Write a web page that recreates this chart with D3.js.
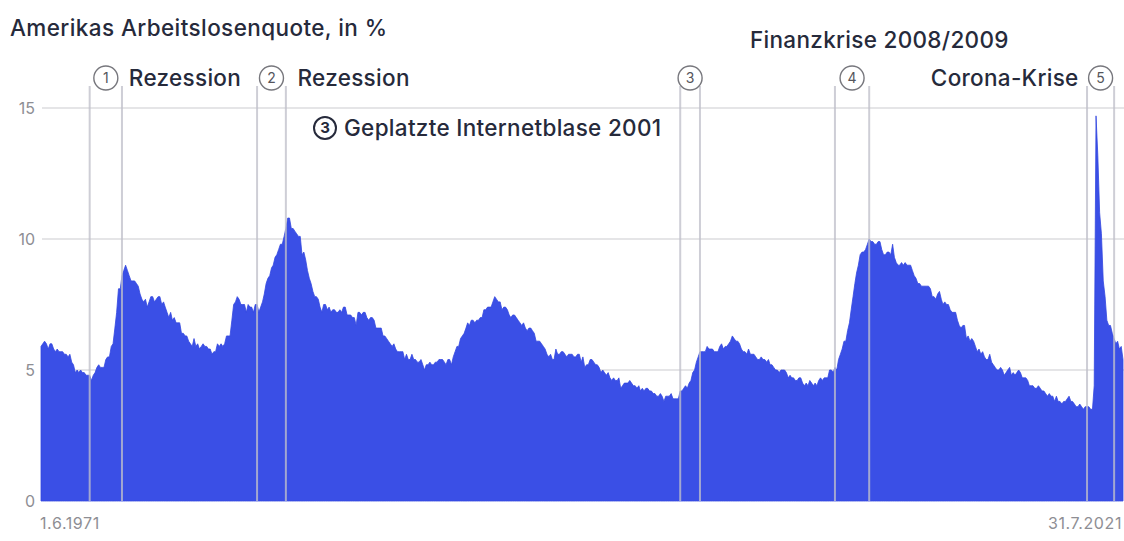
<!DOCTYPE html>
<html>
<head>
<meta charset="utf-8">
<script src="https://cdn.jsdelivr.net/npm/d3@7"></script>
<style>
  body { margin: 0; background: #fff; }
  svg text { font-family: Inter, "Noto Sans", sans-serif; }
</style>
</head>
<body>
<svg id="chart" width="1124" height="541"></svg>
<script>
// monthly unemployment rate in %, first value = June 1971, last = July 2021
const startMonth = "1971-06";
const rates = [
  5.9, 6.0, 6.1, 6.0, 5.8, 6.0, 6.0,
  5.8, 5.7, 5.8, 5.7, 5.7, 5.7, 5.6, 5.6, 5.5, 5.6, 5.3, 5.2,
  4.9, 5.0, 4.9, 5.0, 4.9, 4.9, 4.8, 4.8, 4.8, 4.6, 4.8, 4.9,
  5.1, 5.2, 5.1, 5.1, 5.1, 5.4, 5.5, 5.5, 5.9, 6.0, 6.6, 7.2,
  8.1, 8.1, 8.6, 8.8, 9.0, 8.8, 8.6, 8.4, 8.4, 8.4, 8.3, 8.2,
  7.9, 7.7, 7.6, 7.7, 7.4, 7.6, 7.8, 7.8, 7.6, 7.7, 7.8, 7.8,
  7.5, 7.6, 7.4, 7.2, 7.0, 7.2, 6.9, 7.0, 6.8, 6.8, 6.8, 6.4,
  6.4, 6.3, 6.3, 6.1, 6.0, 5.9, 6.2, 5.9, 6.0, 5.8, 5.9, 6.0,
  5.9, 5.9, 5.8, 5.8, 5.6, 5.7, 5.7, 6.0, 5.9, 6.0, 5.9, 6.0,
  6.3, 6.3, 6.3, 6.9, 7.5, 7.6, 7.8, 7.7, 7.5, 7.5, 7.5, 7.2,
  7.5, 7.4, 7.4, 7.2, 7.5, 7.5, 7.2, 7.4, 7.6, 7.9, 8.3, 8.5,
  8.6, 8.9, 9.0, 9.3, 9.4, 9.6, 9.8, 9.8, 10.1, 10.4, 10.8, 10.8,
  10.4, 10.4, 10.3, 10.2, 10.1, 10.1, 9.4, 9.5, 9.2, 8.8, 8.5, 8.3,
  8.0, 7.8, 7.8, 7.7, 7.4, 7.2, 7.5, 7.5, 7.3, 7.4, 7.2, 7.3,
  7.3, 7.2, 7.2, 7.3, 7.2, 7.4, 7.4, 7.1, 7.1, 7.1, 7.0, 7.0,
  6.7, 7.2, 7.2, 7.1, 7.2, 7.2, 7.0, 6.9, 7.0, 7.0, 6.9, 6.6,
  6.6, 6.6, 6.6, 6.3, 6.3, 6.2, 6.1, 6.0, 5.9, 6.0, 5.8, 5.7,
  5.7, 5.7, 5.7, 5.4, 5.6, 5.4, 5.4, 5.6, 5.4, 5.4, 5.3, 5.3,
  5.4, 5.2, 5.0, 5.2, 5.2, 5.3, 5.2, 5.2, 5.3, 5.3, 5.4, 5.4,
  5.4, 5.3, 5.2, 5.4, 5.4, 5.2, 5.5, 5.7, 5.9, 5.9, 6.2, 6.3,
  6.4, 6.6, 6.8, 6.7, 6.9, 6.9, 6.8, 6.9, 6.9, 7.0, 7.0, 7.3,
  7.3, 7.4, 7.4, 7.4, 7.6, 7.8, 7.7, 7.6, 7.6, 7.3, 7.4, 7.4,
  7.3, 7.1, 7.0, 7.1, 7.1, 7.0, 6.9, 6.8, 6.7, 6.8, 6.6, 6.5,
  6.6, 6.6, 6.5, 6.4, 6.1, 6.1, 6.1, 6.0, 5.9, 5.8, 5.6, 5.5,
  5.6, 5.4, 5.4, 5.8, 5.6, 5.6, 5.7, 5.7, 5.6, 5.5, 5.6, 5.6,
  5.6, 5.5, 5.5, 5.6, 5.6, 5.3, 5.5, 5.1, 5.2, 5.2, 5.4, 5.4,
  5.3, 5.2, 5.2, 5.1, 4.9, 5.0, 4.9, 4.8, 4.9, 4.7, 4.6, 4.7,
  4.6, 4.6, 4.7, 4.3, 4.4, 4.5, 4.5, 4.5, 4.6, 4.5, 4.4, 4.4,
  4.3, 4.4, 4.2, 4.3, 4.2, 4.3, 4.3, 4.2, 4.2, 4.1, 4.1, 4.0,
  4.0, 4.1, 4.0, 3.8, 4.0, 4.0, 4.0, 4.1, 3.9, 3.9, 3.9, 3.9,
  4.2, 4.2, 4.3, 4.4, 4.3, 4.5, 4.6, 4.9, 5.0, 5.3, 5.5, 5.7,
  5.7, 5.7, 5.7, 5.9, 5.8, 5.8, 5.8, 5.7, 5.7, 5.7, 5.9, 6.0,
  5.8, 5.9, 5.9, 6.0, 6.1, 6.3, 6.2, 6.1, 6.1, 6.0, 5.8, 5.7,
  5.7, 5.6, 5.8, 5.6, 5.6, 5.6, 5.5, 5.4, 5.4, 5.5, 5.4, 5.4,
  5.3, 5.4, 5.2, 5.2, 5.1, 5.0, 5.0, 4.9, 5.0, 5.0, 5.0, 4.9,
  4.7, 4.8, 4.7, 4.7, 4.6, 4.6, 4.7, 4.7, 4.5, 4.4, 4.5, 4.4,
  4.6, 4.5, 4.4, 4.5, 4.4, 4.6, 4.7, 4.6, 4.7, 4.7, 4.7, 5.0,
  5.0, 4.9, 5.1, 5.0, 5.4, 5.6, 5.8, 6.1, 6.1, 6.5, 6.8, 7.3,
  7.8, 8.3, 8.7, 9.0, 9.4, 9.5, 9.5, 9.6, 9.8, 10.0, 9.9, 9.9,
  9.8, 9.8, 9.9, 9.9, 9.6, 9.4, 9.4, 9.5, 9.5, 9.4, 9.8, 9.3,
  9.1, 9.0, 9.0, 9.1, 9.0, 9.1, 9.0, 9.0, 9.0, 8.8, 8.6, 8.5,
  8.3, 8.3, 8.2, 8.2, 8.2, 8.2, 8.2, 8.1, 7.8, 7.8, 7.7, 7.9,
  8.0, 7.7, 7.5, 7.6, 7.5, 7.5, 7.3, 7.2, 7.2, 7.2, 6.9, 6.7,
  6.6, 6.7, 6.7, 6.2, 6.3, 6.1, 6.2, 6.1, 5.9, 5.7, 5.8, 5.6,
  5.7, 5.5, 5.4, 5.4, 5.6, 5.3, 5.2, 5.1, 5.0, 5.0, 5.1, 5.0,
  4.8, 4.9, 5.0, 5.1, 4.8, 4.9, 4.8, 4.9, 5.0, 4.9, 4.7, 4.7,
  4.7, 4.6, 4.4, 4.4, 4.4, 4.3, 4.3, 4.4, 4.3, 4.2, 4.2, 4.1,
  4.0, 4.1, 4.0, 4.0, 3.8, 4.0, 3.8, 3.8, 3.7, 3.8, 3.8, 3.9,
  4.0, 3.8, 3.8, 3.7, 3.6, 3.6, 3.7, 3.6, 3.5, 3.6, 3.6, 3.6,
  3.5, 3.5, 4.4, 14.7, 13.2, 11.0, 10.2, 8.4, 7.8, 6.9, 6.7, 6.7,
  6.4, 6.2, 6.0, 6.1, 5.8, 5.9, 5.4
];

// marked crises: number, first and last month of the band
const crisisNums = [1, 2, 3, 4, 5];
const crisisStart = ["1973-09", "1981-06", "2001-01", "2008-03", "2019-11"];
const crisisEnd = ["1975-03", "1982-10", "2001-12", "2009-10", "2021-02"];

const yTicks = [0, 5, 10, 15];
const xLabels = ["1.6.1971", "31.7.2021"];
const title = "Amerikas Arbeitslosenquote, in %";

const svg = d3.select("#chart");
const parseMonth = d3.timeParse("%Y-%m");

const t0 = parseMonth(startMonth);
const data = rates.map(function (v, i) {
  return { date: d3.timeMonth.offset(t0, i), value: v };
});

const x = d3.scaleTime()
  .domain([t0, data[data.length - 1].date])
  .range([41, 1123]);

const y = d3.scaleLinear()
  .domain([0, 15])
  .range([501, 108]);

const textColor = "#262a3b";
const grey = "#8e8e94";

// grid + y labels
svg.append("g")
  .selectAll("line")
  .data(yTicks.filter(d => d > 0))
  .enter()
  .append("line")
  .attr("x1", 42)
  .attr("x2", 1124)
  .attr("y1", d => y(d))
  .attr("y2", d => y(d))
  .attr("stroke", "#dcdcdf")
  .attr("stroke-width", 1.5);

svg.append("g")
  .selectAll("text")
  .data(yTicks)
  .enter()
  .append("text")
  .attr("x", 35)
  .attr("y", d => y(d))
  .attr("dy", "0.36em")
  .attr("text-anchor", "end")
  .attr("font-size", 16)
  .attr("fill", grey)
  .text(d => d);

// area
const area = d3.area()
  .x(d => x(d.date))
  .y0(y(0))
  .y1(d => y(d.value));

svg.append("path")
  .datum(data)
  .attr("d", area)
  .attr("fill", "#3a4fe6")
  .attr("stroke", "#3447e0")
  .attr("stroke-width", 0.8);

// crisis markers
const crises = crisisNums.map(function (n, i) {
  return { n: n, a: parseMonth(crisisStart[i]), b: parseMonth(crisisEnd[i]) };
});

const circleY = 78;
const mark = svg.append("g");

crises.forEach(function (c) {
  [c.a, c.b].forEach(function (d) {
    mark.append("line")
      .attr("x1", x(d))
      .attr("x2", x(d))
      .attr("y1", circleY + 8)
      .attr("y2", y(0))
      .attr("stroke", "rgba(192,192,202,0.78)")
      .attr("stroke-width", 2);
  });
  const cx = (x(c.a) + x(c.b)) / 2;
  mark.append("circle")
    .attr("cx", cx)
    .attr("cy", circleY)
    .attr("r", 12)
    .attr("fill", "#fff")
    .attr("stroke", "#77777d")
    .attr("stroke-width", 1.4);
  mark.append("text")
    .attr("x", cx)
    .attr("y", circleY)
    .attr("dy", "0.36em")
    .attr("text-anchor", "middle")
    .attr("font-size", 14)
    .attr("fill", "#55555c")
    .text(c.n);
});

// annotation texts
function label(txt, xPos, yPos, anchor) {
  svg.append("text")
    .attr("x", xPos)
    .attr("y", yPos)
    .attr("dy", "0.36em")
    .attr("text-anchor", anchor || "start")
    .attr("font-size", 22.5)
    .attr("font-weight", 500)
    .attr("letter-spacing", 0.3)
    .attr("fill", textColor)
    .text(txt);
}

const c1 = (x(crises[0].a) + x(crises[0].b)) / 2;
const c2 = (x(crises[1].a) + x(crises[1].b)) / 2;
const c5 = (x(crises[4].a) + x(crises[4].b)) / 2;

label("Rezession", c1 + 23, circleY);
label("Rezession", c2 + 26, circleY);
label("Finanzkrise 2008/2009", 750, 40);
label("Corona-Krise", c5 - 22, circleY, "end");

// legend for 3
svg.append("circle")
  .attr("cx", 325)
  .attr("cy", 128)
  .attr("r", 11)
  .attr("fill", "none")
  .attr("stroke", textColor)
  .attr("stroke-width", 2);
svg.append("text")
  .attr("x", 325)
  .attr("y", 128)
  .attr("dy", "0.36em")
  .attr("text-anchor", "middle")
  .attr("font-size", 15)
  .attr("font-weight", 700)
  .attr("fill", textColor)
  .text(3);
label("Geplatzte Internetblase 2001", 344, 128);

// title
svg.append("text")
  .attr("x", 10)
  .attr("y", 28)
  .attr("dy", "0.36em")
  .attr("font-size", 22.5)
  .attr("font-weight", 500)
  .attr("letter-spacing", 0.4)
  .attr("fill", textColor)
  .text(title);

// x labels
svg.append("text")
  .attr("x", 40)
  .attr("y", 523)
  .attr("dy", "0.36em")
  .attr("font-size", 16)
  .attr("letter-spacing", 0.6)
  .attr("fill", grey)
  .text(xLabels[0]);
svg.append("text")
  .attr("x", 1122)
  .attr("y", 523)
  .attr("dy", "0.36em")
  .attr("text-anchor", "end")
  .attr("font-size", 16)
  .attr("letter-spacing", 0.6)
  .attr("fill", grey)
  .text(xLabels[1]);
</script>
</body>
</html>
